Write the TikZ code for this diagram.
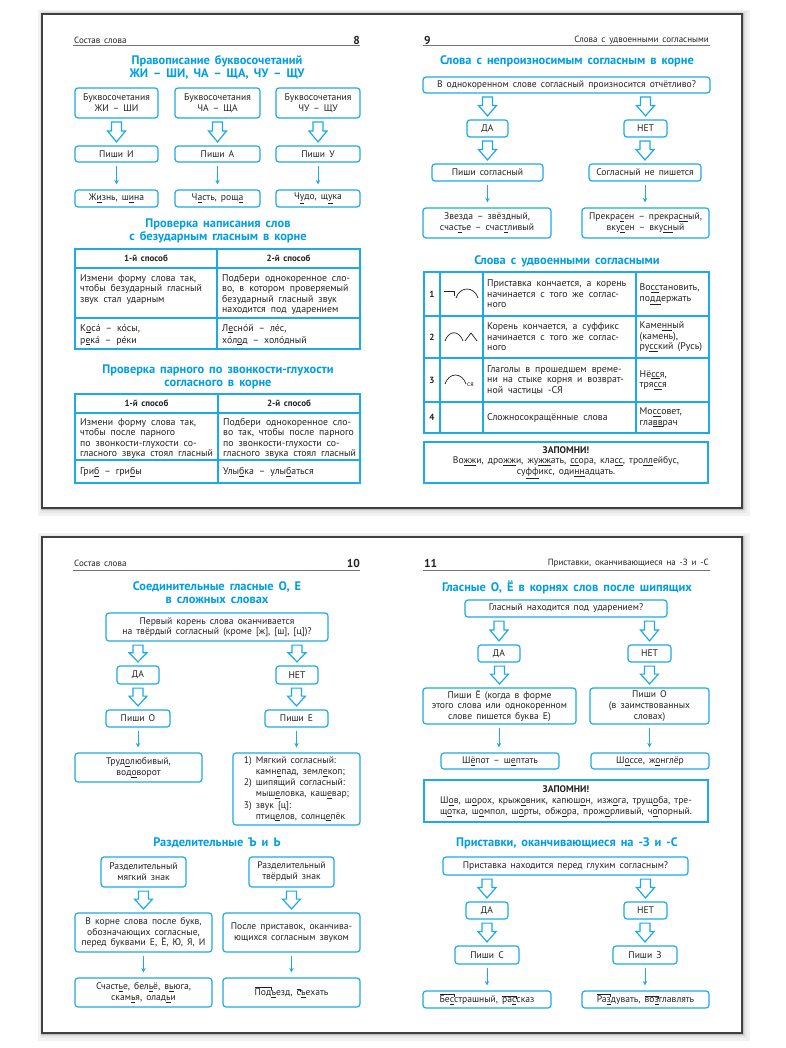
\documentclass[tikz,border=0pt]{standalone}
\usepackage{fontspec}
\setmainfont[WordSpace=1.6]{PT Sans}
\newfontfamily\cellfont[WordSpace=1.9]{PT Sans}
\usetikzlibrary{calc,arrows.meta}
\definecolor{cb}{RGB}{30,170,228}
\definecolor{hd}{RGB}{0,158,226}
\definecolor{tt}{RGB}{35,35,35}
\newcommand\uu[1]{\underline{#1}}
\newcommand\prefx[1]{\setbox0\hbox{#1}\leavevmode\rlap{\rule[\dimexpr\ht0+1.2pt\relax]{\wd0}{0.45pt}}\rlap{\hskip\dimexpr\wd0-0.45pt\relax\rule[\dimexpr\ht0-0.8pt\relax]{0.45pt}{2.45pt}}\box0}
\newcommand\mybox[7][]{%
 \pgfmathsetmacro\bxw{#5-#3}\pgfmathsetmacro\bxh{#6-#4}%
 \pgfmathsetmacro\bxx{(#3+#5)/2}\pgfmathsetmacro\bxy{(#4+#6)/2}%
 \node[box,minimum width=\bxw pt,minimum height=\bxh pt,#1] (#2) at (\bxx,\bxy) {#7};}
\newcommand\harrow[2]{%
 \path[barrowst] let \p1=(#1.south), \p2=(#2.north),
  \n1={\y1-3.5pt}, \n2={\y2+3.5pt}, \n3={\y1-3.5pt-0.45*(\y1-\y2-7pt)} in
  (\x2-5pt,\n1) -- (\x2+5pt,\n1) -- (\x2+5pt,\n3) -- (\x2+9pt,\n3) -- (\x2,\n2) -- (\x2-9pt,\n3) -- (\x2-5pt,\n3) -- cycle;}
\tikzset{
 box/.style={draw=cb, line width=1.2pt, rounded corners=3pt, fill=white, text=tt, align=center, inner sep=1pt, font=\fontsize{9.6}{10.9}\selectfont},
 zap/.style={box, rounded corners=0pt, line width=2pt},
 thinarr/.style={draw=cb, line width=0.9pt, -{Stealth[length=4.5pt,width=4.5pt]}, shorten <=3pt, shorten >=5pt},
 barrowst/.style={draw=cb, line width=1.2pt, fill=white, line join=miter},
 ttl/.style={text=hd, font=\bfseries\fontsize{12.4}{12.8}\selectfont, align=center, inner sep=0},
 hdr/.style={text=tt, font=\fontsize{9}{10}\selectfont, inner sep=0},
 pnum/.style={text=tt, font=\bfseries\fontsize{11.5}{12}\selectfont, inner sep=0},
 cell/.style={text=tt, font=\cellfont\fontsize{9.8}{10.5}\selectfont, align=left, inner sep=0, anchor=north west},
 cellh/.style={text=tt, font=\bfseries\fontsize{9}{10}\selectfont, inner sep=0},
 tab/.style={draw=cb, line width=1.2pt},
 hline/.style={draw=black!55, line width=0.8pt},
 pageedge/.style={draw=black!75, line width=1.4pt, fill=white},
 icon/.style={draw=tt, line width=0.7pt},
}
\begin{document}
\begin{tikzpicture}[x=1pt,y=-1pt]
\useasboundingbox (0,0) rectangle (786,1048);
\fill[white] (0,0) rectangle (786,1048);
% spreads with shadow
\foreach \s/\c in {8/5,5/9,3/15,1.5/25}{
  \fill[black!\c] (42-\s/2,14-\s/2) rectangle (742+\s,508+\s);
  \fill[black!\c] (42-\s/2,537-\s/2) rectangle (742+\s,1033+\s);}
\draw[pageedge] (42,14) rectangle (742,508);
\draw[pageedge] (42,537) rectangle (742,1033);

% ================= PAGE 8 =================
\node[hdr, anchor=west] (h8) at (74,40) {Состав слова};
\node[pnum, anchor=east] (n8) at (360,40) {8};
\draw[hline] (73,45.5) -- (360,45.5);
\node[ttl] (t8a) at (217,67.5) {Правописание буквосочетаний\\ЖИ – ШИ, ЧА – ЩА, ЧУ – ЩУ};
\mybox{b1}{75}{88}{158}{118}{Буквосочетания\\ЖИ – ШИ}
\mybox{b2}{175}{88}{260}{118}{Буквосочетания\\ЧА – ЩА}
\mybox{b3}{276}{88}{360}{118}{Буквосочетания\\ЧУ – ЩУ}
\mybox{p1}{75}{146}{158}{162}{Пиши И}
\mybox{p2}{175}{146}{260}{162}{Пиши А}
\mybox{p3}{276}{146}{360}{162}{Пиши У}
\mybox{e1}{75}{190}{158}{207}{Ж\uu{и}знь, ш\uu{и}на}
\mybox{e2}{175}{190}{260}{207}{Ч\uu{а}сть, рощ\uu{а}}
\mybox{e3}{276}{190}{360}{207}{Ч\uu{у}до, щ\uu{у}ка}
\harrow{b1}{p1}\harrow{b2}{p2}\harrow{b3}{p3}
\draw[thinarr] (p1.south) -- (p1.south |- e1.north);
\draw[thinarr] (p2.south) -- (p2.south |- e2.north);
\draw[thinarr] (p3.south) -- (p3.south |- e3.north);

\node[ttl] (t8b) at (218,231) {Проверка написания слов\\с безударным гласным в корне};
\draw[tab] (75,249) rectangle (360,349);
\draw[tab] (217,249) -- (217,349);
\draw[tab] (75,268) -- (360,268);
\draw[tab] (75,318) -- (360,318);
\node[cellh] (k1h) at (146,258.5) {1-й способ};
\node[cellh] (k2h) at (288.5,258.5) {2-й способ};
\node[cell] (k1a) at (80,274) {Измени форму слова так,\\чтобы безударный гласный\\звук стал ударным};
\node[cell] (k2a) at (222,274) {Подбери однокоренное сло-\\во, в котором проверяемый\\безударный гласный звук\\находится под ударением};
\node[cell, anchor=base west] (k1b) at (80,331) {К\uu{о}са́ – ко́сы,};
\node[cell, anchor=base west] (k1c) at (80,343) {р\uu{е}ка́ – ре́ки};
\node[cell, anchor=base west] (k2b) at (222,331) {Л\uu{е}сно́й – ле́с,};
\node[cell, anchor=base west] (k2c) at (222,343) {хо́л\uu{о}д – холо́дный};

\node[ttl] (t8c) at (218,376.5) {Проверка парного по звонкости-глухости\\согласного в корне};
\draw[tab] (75,394) rectangle (360,483);
\draw[tab] (218,394) -- (218,483);
\draw[tab] (75,413) -- (360,413);
\draw[tab] (75,460) -- (360,460);
\node[cellh] (m1h) at (146.5,403.5) {1-й способ};
\node[cellh] (m2h) at (289,403.5) {2-й способ};
\node[cell] (m1a) at (80,418) {Измени форму слова так,\\чтобы после парного\\по звонкости-глухости со-\\гласного звука стоял гласный};
\node[cell] (m2a) at (223,418) {Подбери однокоренное сло-\\во так, чтобы после парного\\по звонкости-глухости со-\\гласного звука стоял гласный};
\node[cell, anchor=west] (m1b) at (80,472) {Гри\uu{б} – гри\uu{б}ы};
\node[cell, anchor=west] (m2b) at (223,472) {Улы\uu{б}ка – улы\uu{б}аться};

% ================= PAGE 9 =================
\node[pnum, anchor=west] (n9) at (424,40) {9};
\node[hdr, anchor=east] (h9) at (709,40) {Слова с удвоенными согласными};
\draw[hline] (423,45.5) -- (710,45.5);
\node[ttl] (t9a) at (567,61) {Слова с непроизносимым согласным в корне};
\mybox{q9}{423}{77}{710}{93}{В однокоренном слове согласный произносится отчётливо?}
\mybox{da9}{467}{120}{508}{137}{ДА}
\mybox{net9}{624}{120}{667}{137}{НЕТ}
\mybox{ps9}{432}{164}{543}{181}{Пиши согласный}
\mybox{ns9}{589}{164}{701}{181}{Согласный не пишется}
\mybox{x9a}{423}{208}{551}{238}{Звезда – звёздный,\\счас\uu{т}ье – счас\uu{т}ливый}
\mybox{x9b}{582}{208}{709}{238}{Прекра\uu{с}ен – прекра\uu{сн}ый,\\вку\uu{с}ен – вку\uu{сн}ый}
\harrow{q9}{da9}\harrow{q9}{net9}
\harrow{da9}{ps9}\harrow{net9}{ns9}
\draw[thinarr] (ps9.south) -- (ps9.south |- x9a.north);
\draw[thinarr] (ns9.south) -- (ns9.south |- x9b.north);

\node[ttl] (t9b) at (567,261) {Слова с удвоенными согласными};
\draw[tab] (424,272) rectangle (709,433);
\foreach \yy in {316,358,402} \draw[tab] (424,\yy) -- (709,\yy);
\foreach \xx in {440,483,636} \draw[tab] (\xx,272) -- (\xx,433);
\node[cellh] (r1n) at (432,294) {1};
\node[cellh] (r2n) at (432,337) {2};
\node[cellh] (r3n) at (432,380) {3};
\node[cellh] (r4n) at (432,417.5) {4};
\node[cell, anchor=west] (r1t) at (487,294) {Приставка кончается, а корень\\начинается с того же соглас-\\ного};
\node[cell, anchor=west] (r2t) at (487,337) {Корень кончается, а суффикс\\начинается с того же соглас-\\ного};
\node[cell, anchor=west] (r3t) at (487,380) {Глаголы в прошедшем време-\\ни на стыке корня и возврат-\\ной частицы -СЯ};
\node[cell, anchor=west] (r4t) at (487,417.5) {Сложносокращённые слова};
\node[cell, anchor=west, font=\fontsize{9.8}{10.5}\selectfont] (r1e) at (639.5,294) {Во\uu{сс}тановить,\\по\uu{дд}ержать};
\node[cell, anchor=west, font=\fontsize{9.8}{10.5}\selectfont] (r2e) at (639.5,337) {Каме\uu{нн}ый\\(камень),\\ру\uu{сс}кий (Русь)};
\node[cell, anchor=west, font=\fontsize{9.8}{10.5}\selectfont] (r3e) at (639.5,380) {Нё\uu{сс}я,\\тря\uu{сс}я};
\node[cell, anchor=west, font=\fontsize{9.8}{10.5}\selectfont] (r4e) at (639.5,417.5) {Мо\uu{сс}овет,\\гла\uu{вв}рач};
% morpheme icons
\draw[icon] (444,291.5) -- (454,291.5) -- (454,295.5);
\draw[icon] (456,298) .. controls (460,286) and (474,286) .. (478,298);
\draw[icon] (445,341) .. controls (449,330) and (459,330) .. (463,341);
\draw[icon] (465,341) -- (471,333) -- (477,341);
\draw[icon] (445,384) .. controls (449,372) and (462,372) .. (466,384);
\node[cell, anchor=west, font=\fontsize{7}{8}\selectfont] (sya) at (467,385) {ся};
\mybox[zap]{zap9}{424}{442}{708}{483}{\textbf{ЗАПОМНИ!}\\Во\uu{жж}и, дро\uu{жж}и, жу\uu{жж}ать, \uu{сс}ора, кла\uu{сс}, тро\uu{лл}ейбус,\\су\uu{фф}икс, оди\uu{нн}адцать.}

% ================= PAGE 10 =================
\node[hdr, anchor=west] (h10) at (74,563) {Состав слова};
\node[pnum, anchor=east] (n10) at (360,563) {10};
\draw[hline] (73,570) -- (360,570);
\node[ttl] (t10a) at (217,592.5) {Соединительные гласные О, Е\\в сложных словах};
\mybox[font=\fontsize{9.6}{9.8}\selectfont]{q10}{106}{613}{328}{641}{Первый корень слова оканчивается\\на твёрдый согласный (кроме [ж], [ш], [ц])?}
\mybox{da10}{117}{666}{159}{684}{ДА}
\mybox{net10}{276}{666}{318}{684}{НЕТ}
\mybox{po10}{106}{710}{170}{727}{Пиши О}
\mybox{pe10}{265}{710}{328}{727}{Пиши Е}
\mybox{x10a}{75}{753}{202}{782}{Труд\uu{о}любивый,\\вод\uu{о}ворот}
\mybox[align=left, font=\fontsize{9.6}{11.1}\selectfont]{x10b}{233}{753}{360}{825}{1)\ Мягкий согласный:\\\hphantom{1)\ }камн\uu{е}пад, земл\uu{е}коп;\\2)\ шипящий согласный:\\\hphantom{2)\ }мыш\uu{е}ловка, каш\uu{е}вар;\\3)\ звук [ц]:\\\hphantom{3)\ }птиц\uu{е}лов, солнц\uu{е}пёк}
\harrow{q10}{da10}\harrow{q10}{net10}
\harrow{da10}{po10}\harrow{net10}{pe10}
\draw[thinarr] (po10.south) -- (po10.south |- x10a.north);
\draw[thinarr] (pe10.south) -- (pe10.south |- x10b.north);

\node[ttl] (t10b) at (217,843) {Разделительные Ъ и Ь};
\mybox{s1}{101}{857}{186}{887}{Разделительный\\мягкий знак}
\mybox{s2}{249}{857}{334}{887}{Разделительный\\твёрдый знак}
\mybox{s1b}{75}{913}{212}{952}{В корне слова после букв,\\обозначающих согласные,\\перед буквами Е, Ё, Ю, Я, И}
\mybox{s2b}{223}{913}{360}{952}{После приставок, оканчива-\\ющихся согласным звуком}
\mybox{s1c}{75}{978}{212}{1007}{Счаст\uu{ь}е, бел\uu{ь}ё, в\uu{ь}юга,\\скам\uu{ь}я, олад\uu{ь}и}
\mybox{s2c}{223}{978}{360}{1007}{\prefx{Под}\uu{ъ}езд, \prefx{с}\uu{ъ}ехать}
\harrow{s1}{s1b}\harrow{s2}{s2b}
\draw[thinarr] (s1b.south) -- (s1b.south |- s1c.north);
\draw[thinarr] (s2b.south) -- (s2b.south |- s2c.north);

% ================= PAGE 11 =================
\node[pnum, anchor=west] (n11) at (424,563) {11};
\node[hdr, anchor=east] (h11) at (709,563) {Приставки, оканчивающиеся на -З и -С};
\draw[hline] (423,570) -- (710,570);
\node[ttl] (t11a) at (567,587) {Гласные О, Ё в корнях слов после шипящих};
\mybox{q11}{465}{600}{667}{617}{Гласный находится под ударением?}
\mybox{da11}{478}{645}{520}{662}{ДА}
\mybox{net11}{628}{645}{671}{662}{НЕТ}
\mybox{pe11}{423}{688}{576}{724}{Пиши Ё (когда в форме\\этого слова или однокоренном\\слове пишется буква Е)}
\mybox{po11}{590}{688}{709}{724}{Пиши О\\(в заимствованных\\словах)}
\mybox{x11a}{441}{753}{559}{769}{Ш\uu{ё}пот – ш\uu{е}птать}
\mybox{x11b}{591}{753}{709}{769}{Ш\uu{о}ссе, ж\uu{о}нглёр}
\harrow{q11}{da11}\harrow{q11}{net11}
\harrow{da11}{pe11}\harrow{net11}{po11}
\draw[thinarr] (da11.south |- pe11.south) -- (da11.south |- x11a.north);
\draw[thinarr] (net11.south |- po11.south) -- (net11.south |- x11b.north);
\mybox[zap]{zap11}{424}{780}{708}{822}{\textbf{ЗАПОМНИ!}\\Ш\uu{о}в, ш\uu{о}рох, крыж\uu{о}вник, капюш\uu{о}н, изж\uu{о}га, трущ\uu{о}ба, тре-\\щ\uu{о}тка, ш\uu{о}мпол, ш\uu{о}рты, обж\uu{о}ра, прож\uu{о}рливый, ч\uu{о}порный.}

\node[ttl] (t11b) at (567,843) {Приставки, оканчивающиеся на -З и -С};
\mybox{q11b}{443}{857}{688}{875}{Приставка находится перед глухим согласным?}
\mybox{da11b}{466}{902}{508}{919}{ДА}
\mybox{net11b}{624}{902}{667}{919}{НЕТ}
\mybox{ps11}{455}{946}{519}{964}{Пиши С}
\mybox{pz11}{613}{946}{677}{964}{Пиши З}
\mybox{x11c}{423}{991}{551}{1008}{\prefx{Бе\uu{с}}страшный, \prefx{ра\uu{с}}сказ}
\mybox{x11d}{582}{991}{709}{1008}{\prefx{Ра\uu{з}}дувать, \prefx{во\uu{з}}главлять}
\harrow{q11b}{da11b}\harrow{q11b}{net11b}
\harrow{da11b}{ps11}\harrow{net11b}{pz11}
\draw[thinarr] (ps11.south) -- (ps11.south |- x11c.north);
\draw[thinarr] (pz11.south) -- (pz11.south |- x11d.north);
\end{tikzpicture}
\end{document}
